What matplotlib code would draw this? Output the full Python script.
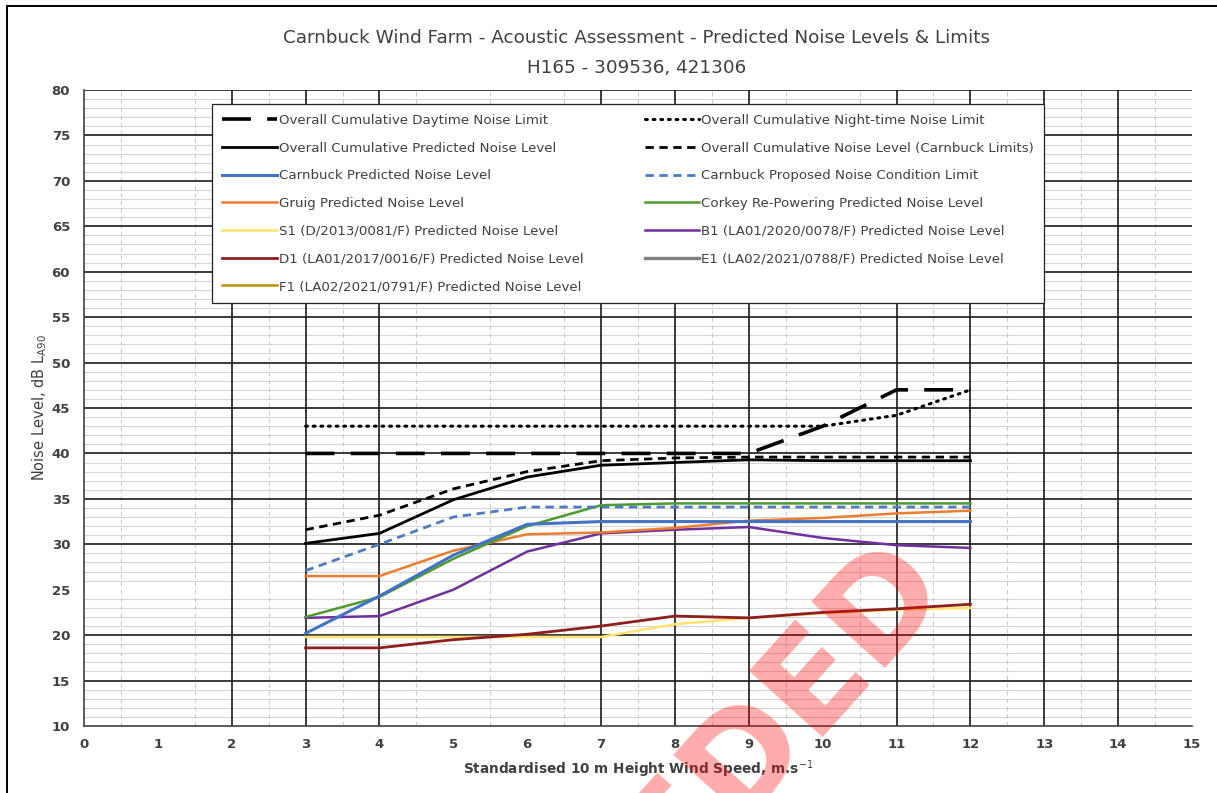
import matplotlib
matplotlib.use("Agg")
import matplotlib.pyplot as plt
from matplotlib.lines import Line2D

# Wind speeds (m/s) at which levels are assessed
wind_speed = [3, 4, 5, 6, 7, 8, 9, 10, 11, 12]

# Limits and cumulative levels, dB LA90
daytime_limit = [40, 40, 40, 40, 40, 40, 40, 43, 47, 47]
night_limit = [43, 43, 43, 43, 43, 43, 43, 43, 44.2, 47]
cumulative_predicted = [30.1, 31.2, 34.9, 37.4, 38.7, 39.0, 39.3, 39.2, 39.2, 39.2]
cumulative_carnbuck_limits = [31.6, 33.2, 36.1, 38.0, 39.2, 39.5, 39.6, 39.6, 39.6, 39.6]

# Individual wind farm predictions, dB LA90
carnbuck_predicted = [20.2, 24.3, 28.8, 32.2, 32.5, 32.5, 32.5, 32.5, 32.5, 32.5]
carnbuck_condition_limit = [27.1, 30.0, 33.0, 34.1, 34.1, 34.1, 34.1, 34.1, 34.1, 34.1]
gruig_predicted = [26.5, 26.5, 29.3, 31.1, 31.3, 31.8, 32.6, 32.9, 33.4, 33.7]
corkey_predicted = [22.0, 24.2, 28.4, 32.0, 34.3, 34.5, 34.5, 34.5, 34.5, 34.5]
s1_predicted = [19.8, 19.8, 19.8, 19.8, 19.8, 21.2, 21.9, 22.4, 22.8, 23.0]
b1_predicted = [21.9, 22.1, 25.0, 29.2, 31.2, 31.6, 31.9, 30.7, 29.9, 29.6]
d1_predicted = [18.6, 18.6, 19.5, 20.1, 21.0, 22.1, 21.9, 22.5, 22.9, 23.4]
# E1 and F1 contribute nothing within the plotted range
e1_predicted = []
f1_predicted = []

title_lines = ["Carnbuck Wind Farm - Acoustic Assessment - Predicted Noise Levels & Limits",
               "H165 - 309536, 421306"]
x_ticks = list(range(0, 16))
y_ticks = list(range(10, 81, 5))

TXT = "#404040"
plt.rcParams["font.family"] = ["DejaVu Sans"]

fig = plt.figure(figsize=(12.17, 7.93), dpi=100)
ax = fig.add_axes([84 / 1217, 1 - 726 / 793, (1192 - 84) / 1217, (726 - 90) / 793])

ax.set_xlim(0, 15)
ax.set_ylim(10, 80)

# gridlines: light minor grid, black major grid
for y in range(11, 80):
    if y % 5:
        ax.axhline(y, color="#d6d6d6", lw=0.8, zorder=0.5)
for x in [i + 0.5 for i in range(15)]:
    ax.axvline(x, color="#cccccc", lw=0.8, ls=(0, (4, 3)), zorder=0.5)
for y in [15, 20, 30, 35, 40, 45, 50, 55, 60, 65, 70, 75, 80]:
    ax.axhline(y, color="#1a1a1a", lw=1.2, zorder=0.8)
for x in [2, 3, 4, 7, 8, 9, 11, 12, 13, 14]:
    ax.axvline(x, color="#1a1a1a", lw=1.2, zorder=0.8)

series = [
    (daytime_limit, "Overall Cumulative Daytime Noise Limit",
     dict(color="black", lw=2.6, ls=(0, (8, 4.5)))),
    (cumulative_predicted, "Overall Cumulative Predicted Noise Level",
     dict(color="black", lw=2.0)),
    (carnbuck_predicted, "Carnbuck Predicted Noise Level",
     dict(color="#4472C4", lw=2.2)),
    (gruig_predicted, "Gruig Predicted Noise Level",
     dict(color="#ED7D31", lw=1.8)),
    (s1_predicted, "S1 (D/2013/0081/F) Predicted Noise Level",
     dict(color="#FFE36E", lw=1.8)),
    (d1_predicted, "D1 (LA01/2017/0016/F) Predicted Noise Level",
     dict(color="#8E1F1F", lw=2.0)),
    (f1_predicted, "F1 (LA02/2021/0791/F) Predicted Noise Level",
     dict(color="#BF9000", lw=1.8)),
    (night_limit, "Overall Cumulative Night-time Noise Limit",
     dict(color="black", lw=2.2, ls=(0, (0.6, 1.9)), dash_capstyle="round")),
    (cumulative_carnbuck_limits, "Overall Cumulative Noise Level (Carnbuck Limits)",
     dict(color="black", lw=2.0, ls=(0, (3, 2)))),
    (carnbuck_condition_limit, "Carnbuck Proposed Noise Condition Limit",
     dict(color="#4F7CC0", lw=2.0, ls=(0, (3, 2)))),
    (corkey_predicted, "Corkey Re-Powering Predicted Noise Level",
     dict(color="#4E9A30", lw=1.8)),
    (b1_predicted, "B1 (LA01/2020/0078/F) Predicted Noise Level",
     dict(color="#7030A0", lw=1.8)),
    (e1_predicted, "E1 (LA02/2021/0788/F) Predicted Noise Level",
     dict(color="#808080", lw=2.4)),
]

# draw order so the black cumulative lines sit on top
draw_order = [4, 5, 6, 12, 11, 3, 10, 2, 9, 1, 8, 7, 0]
handles = [None] * len(series)
for i in draw_order:
    vals, label, style = series[i]
    xs = wind_speed[:len(vals)]
    (ln,) = ax.plot(xs, vals, label=label, zorder=3, **style)
    handles[i] = ln

leg = ax.legend(handles=handles, labels=[s[1] for s in series], ncol=2,
                loc="upper left",
                bbox_to_anchor=((212 - 84) / (1192 - 84), (726 - 104) / (726 - 90)),
                frameon=True, fancybox=False, framealpha=1, edgecolor="#222222",
                fontsize=9.6, handlelength=4.1, handletextpad=0.15,
                labelspacing=1.1, columnspacing=4.6, borderpad=0.75,
                borderaxespad=0)
leg.get_frame().set_linewidth(0.9)
leg.set_zorder(5)
for t in leg.get_texts():
    t.set_color(TXT)

ax.set_xticks(x_ticks)
ax.set_yticks(y_ticks)
ax.tick_params(length=0, labelsize=9.5, labelcolor=TXT)
ax.tick_params(axis="x", pad=9)
ax.tick_params(axis="y", pad=10)
for lab in ax.get_xticklabels() + ax.get_yticklabels():
    lab.set_fontweight("bold")

for s in ["top", "right"]:
    ax.spines[s].set_visible(False)
for s in ["left", "bottom"]:
    ax.spines[s].set_color("#404040")
    ax.spines[s].set_linewidth(1.2)

ax.set_xlabel("Standardised 10 m Height Wind Speed, m.s$^{-1}$", fontsize=9.8,
              color=TXT, fontweight="bold", labelpad=5)
ax.set_ylabel("Noise Level, dB L$_{\\mathrm{A90}}$", fontsize=10.5, color=TXT, labelpad=2)

fig.text(0.523, 1 - 38 / 793, title_lines[0], ha="center", va="center",
         fontsize=13.2, color=TXT)
fig.text(0.523, 1 - 68 / 793, title_lines[1], ha="center", va="center",
         fontsize=13.2, color=TXT)

# page frame
fig.add_artist(Line2D([7 / 1217, 7 / 1217], [0, 1 - 6 / 793], transform=fig.transFigure,
                      color="black", lw=1.4))
fig.add_artist(Line2D([7 / 1217, 1], [1 - 6 / 793, 1 - 6 / 793], transform=fig.transFigure,
                      color="black", lw=1.4))

# document status stamp
fig.text(922 / 1217, 1 - 560 / 793, "SUPERSEDED", ha="right", va="center",
         rotation=48, rotation_mode="anchor", fontsize=98, fontweight="bold",
         color=(1, 0, 0, 0.33), zorder=10)

fig.savefig("out.png", dpi=100)
